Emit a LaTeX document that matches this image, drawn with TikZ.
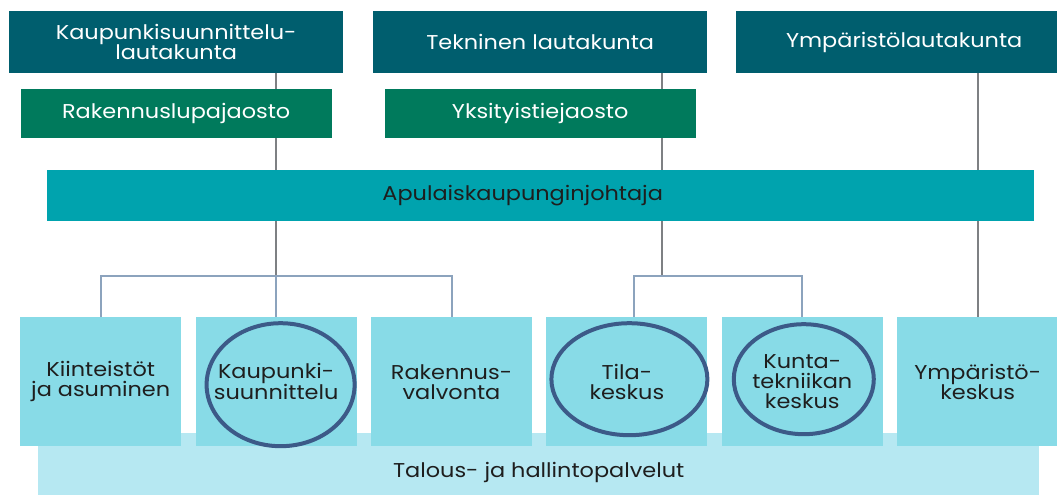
\documentclass[tikz,border=0pt]{standalone}
\usepackage{fontspec}
\setmainfont{Poppins}[FakeStretch=1.12]
\usetikzlibrary{positioning, calc, backgrounds}
\definecolor{boardc}{RGB}{0,94,110}
\definecolor{sectc}{RGB}{0,122,92}
\definecolor{deputyc}{RGB}{0,163,174}
\definecolor{unitc}{RGB}{136,219,231}
\definecolor{bandc}{RGB}{182,232,242}
\definecolor{inkc}{RGB}{30,30,30}
\definecolor{ringc}{RGB}{60,90,136}
\definecolor{linec}{RGB}{126,128,131}
\definecolor{branchc}{RGB}{140,163,189}

\begin{document}
\begin{tikzpicture}[
    x=1pt, y=1pt,
    font=\fontsize{20}{20}\selectfont,
    board/.style={rectangle, minimum height=62pt, inner sep=0pt, align=center, fill=boardc, text=white},
    section/.style={rectangle, minimum height=49pt, inner sep=0pt, align=center, fill=sectc, text=white},
    deputy/.style={rectangle, minimum width=987pt, minimum height=51pt, inner sep=0pt, fill=deputyc},
    unit/.style={rectangle, minimum width=161pt, minimum height=129pt, inner sep=0pt, align=center, fill=unitc, text=inkc},
    band/.style={rectangle, minimum width=1001pt, minimum height=62pt, inner sep=0pt, fill=bandc},
    ring/.style={draw=ringc, line width=4pt},
    vline/.style={draw=linec, line width=2pt},
    bline/.style={draw=branchc, line width=2pt}
]

\useasboundingbox (0,0) rectangle (1057,-495);

\node (talous) [band, anchor=north west, label={[yshift=-8pt, text=inkc]center:Talous- ja hallintopalvelut}] at (38,-433) {};

\node (kslk) [board, minimum width=334pt, anchor=north west] at (9,-11) {Kaupunkisuunnittelu-\\lautakunta};
\node (teklk) [board, minimum width=334pt, anchor=north west] at (373,-11) {Tekninen lautakunta};
\node (ymplk) [board, minimum width=336pt, anchor=north west] at (736,-11) {Ympäristölautakunta};
\node (rlj) [section, minimum width=311pt, below=15pt of kslk] {Rakennuslupajaosto};
\node (ytj) [section, minimum width=311pt, below=15pt of teklk] {Yksityistiejaosto};

\node (apk) [deputy, anchor=north west, label={[xshift=-18pt, text=inkc]center:Apulaiskaupunginjohtaja}] at (47,-170) {};

\node (kia) [unit, anchor=north west] at (20,-317) {Kiinteistöt\\ja asuminen};
\node (kaava) [unit, right=14pt of kia] {Kaupunki-\\suunnittelu};
\node (rakv) [unit, right=14pt of kaava] {Rakennus-\\valvonta};
\node (tila) [unit, right=14pt of rakv] {Tila-\\keskus};
\node (kutek) [unit, right=14pt of tila] {Kunta-\\tekniikan\\keskus};
\node (ympk) [unit, right=14pt of kutek] {Ympäristö-\\keskus};

\draw [ring] ($(kaava)+(4.5,-3)$) ellipse [x radius=74pt, y radius=61.5pt];
\draw [ring] ($(tila)+(2.5,2.5)$) ellipse [x radius=78pt, y radius=56pt];
\draw [ring] ($(kutek)+(1.5,2.5)$) ellipse [x radius=70pt, y radius=55pt];

\begin{scope}[on background layer]
\coordinate (kjoin) at (kaava.north |- 0,-276);
\coordinate (tjoin) at (662,-276);
\draw [vline] (kslk.south -| kjoin) -- (kjoin);
\draw [bline] (kia.north) |- (kjoin) -| (rakv.north);
\draw [bline] (kjoin) -- (kaava.north);
\draw [vline] (teklk.south -| tjoin) -- (tjoin);
\draw [bline] ($(tila.north)+(7.5,0)$) |- (tjoin) -| (kutek.north);
\draw [vline] (ymplk.south -| ympk.north) -- (ympk.north);
\end{scope}

\end{tikzpicture}
\end{document}
